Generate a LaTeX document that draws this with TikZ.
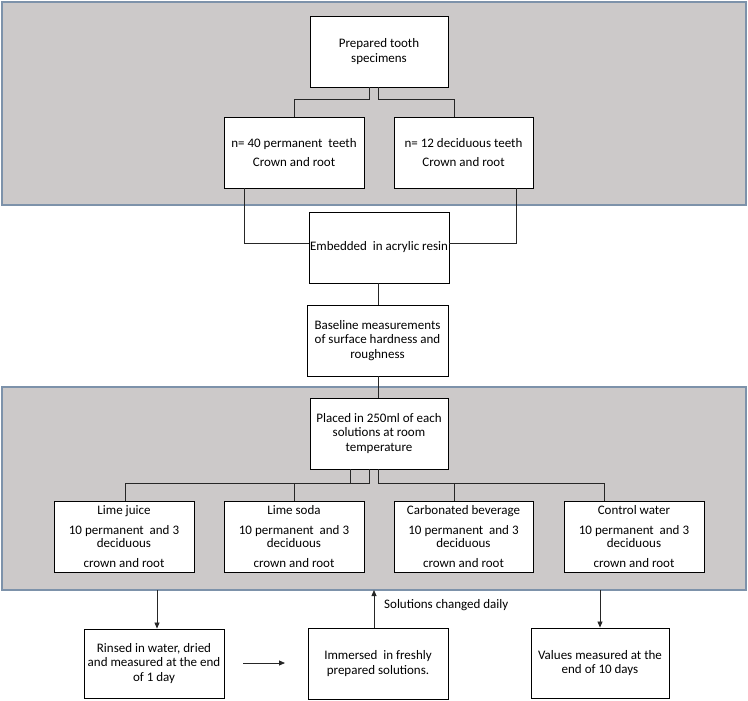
\documentclass[tikz,border=0pt]{standalone}
\usepackage{fontspec}
\setmainfont{Carlito}
\usetikzlibrary{arrows.meta}
\definecolor{panelfill}{RGB}{204,201,201}
\definecolor{paneldraw}{RGB}{125,146,170}
\begin{document}
\begin{tikzpicture}[x=1pt,y=-1pt,
  panel/.style={fill=panelfill,draw=paneldraw,line width=1.2pt},
  box/.style={draw=black,fill=white,line width=0.9pt,align=center,inner sep=1pt,
    font=\fontsize{13}{14.5}\selectfont},
  conn/.style={draw=black!85,line width=0.8pt},
  arr/.style={conn,-{Triangle[length=6pt,width=5pt]}},
  lbl/.style={font=\fontsize{13}{14.5}\selectfont,inner sep=0pt}]
\useasboundingbox (0,0) rectangle (748,701);
% panels
\path[panel] (2,2) rectangle (746,205);
\path[panel] (2,387) rectangle (746,590);
% boxes
\node[box,minimum width=138pt,minimum height=71pt] (prep) at (379,51.5) {Prepared tooth\\specimens};
\node[box,minimum width=140pt,minimum height=71pt] (perm) at (294,152.5) {n= 40 permanent\ \ teeth\\[5pt]Crown and root};
\node[box,minimum width=139pt,minimum height=71pt] (decid) at (463.5,152.5) {n= 12 deciduous teeth\\[5pt]Crown and root};
\node[box,minimum width=140pt,minimum height=71pt] (embed) at (379,247.5) {Embedded\ \ in acrylic resin};
\node[box,minimum width=141pt,minimum height=71pt] (base) at (377.5,340.5) {Baseline measurements\\of surface hardness and\\roughness};
\node[box,minimum width=138pt,minimum height=71pt] (placed) at (379,433.5) {Placed in 250ml of each\\solutions at room\\temperature};
\node[box,minimum width=140pt,minimum height=71pt] (lime) at (124,536.5) {Lime juice\\[6pt]10 permanent\ \ and 3\\[-1.5pt]deciduous\\[5.5pt]crown and root};
\node[box,minimum width=140pt,minimum height=71pt] (soda) at (294,536.5) {Lime soda\\[6pt]10 permanent\ \ and 3\\[-1.5pt]deciduous\\[5.5pt]crown and root};
\node[box,minimum width=139pt,minimum height=71pt] (carb) at (463.5,536.5) {Carbonated beverage\\[6pt]10 permanent\ \ and 3\\[-1.5pt]deciduous\\[5.5pt]crown and root};
\node[box,minimum width=140pt,minimum height=71pt] (ctrl) at (634,536.5) {Control water\\[6pt]10 permanent\ \ and 3\\[-1.5pt]deciduous\\[5.5pt]crown and root};
\node[box,minimum width=140pt,minimum height=69pt] (rinse) at (154,663.5) {Rinsed in water, dried\\and measured at the end\\of 1 day};
\node[box,minimum width=140pt,minimum height=71pt] (immer) at (378,663.5) {Immersed\ \ in freshly\\prepared solutions.};
\node[box,minimum width=138pt,minimum height=70pt] (vals) at (600,663) {Values measured at the\\end of 10 days};
% coordinates on panel edges
\coordinate (pL) at (157,590);
\coordinate (pM) at (374,590);
\coordinate (pR) at (600,590);
\coordinate (hA) at (243,663);
\coordinate (hB) at (285,663);
% connectors top
\draw[conn] (prep.south -| 369,0) |- (294,99) -- (perm.north);
\draw[conn] (prep.south -| 378,0) |- (454,99) -- (decid.north -| 454,0);
\draw[conn] (perm.south -| 244,0) |- (embed.west |- 0,243);
\draw[conn] (decid.south -| 516,0) |- (embed.east |- 0,243);
\draw[conn] (embed.south -| 378,0) -- (base.north -| 378,0);
\draw[conn] (base.south -| 378,0) -- (placed.north -| 378,0);
% connectors to four boxes
\draw[conn] (placed.south -| 350,0) -- (350,483);
\draw[conn] (placed.south -| 369,0) |- (125,483) -- (lime.north -| 125,0);
\draw[conn] (294,483) -- (soda.north);
\draw[conn] (placed.south -| 378,0) |- (604,483) -- (ctrl.north -| 604,0);
\draw[conn] (454,483) -- (carb.north -| 454,0);
% arrows bottom
\draw[arr] (pL) -- (rinse.north -| pL);
\draw[arr] (immer.north -| pM) -- (pM);
\draw[arr] (hA) -- (hB);
\draw[arr] (pR) -- (vals.north -| pR);
\node[lbl,anchor=west] (chg) at (384,605) {Solutions changed daily};
\end{tikzpicture}
\end{document}
